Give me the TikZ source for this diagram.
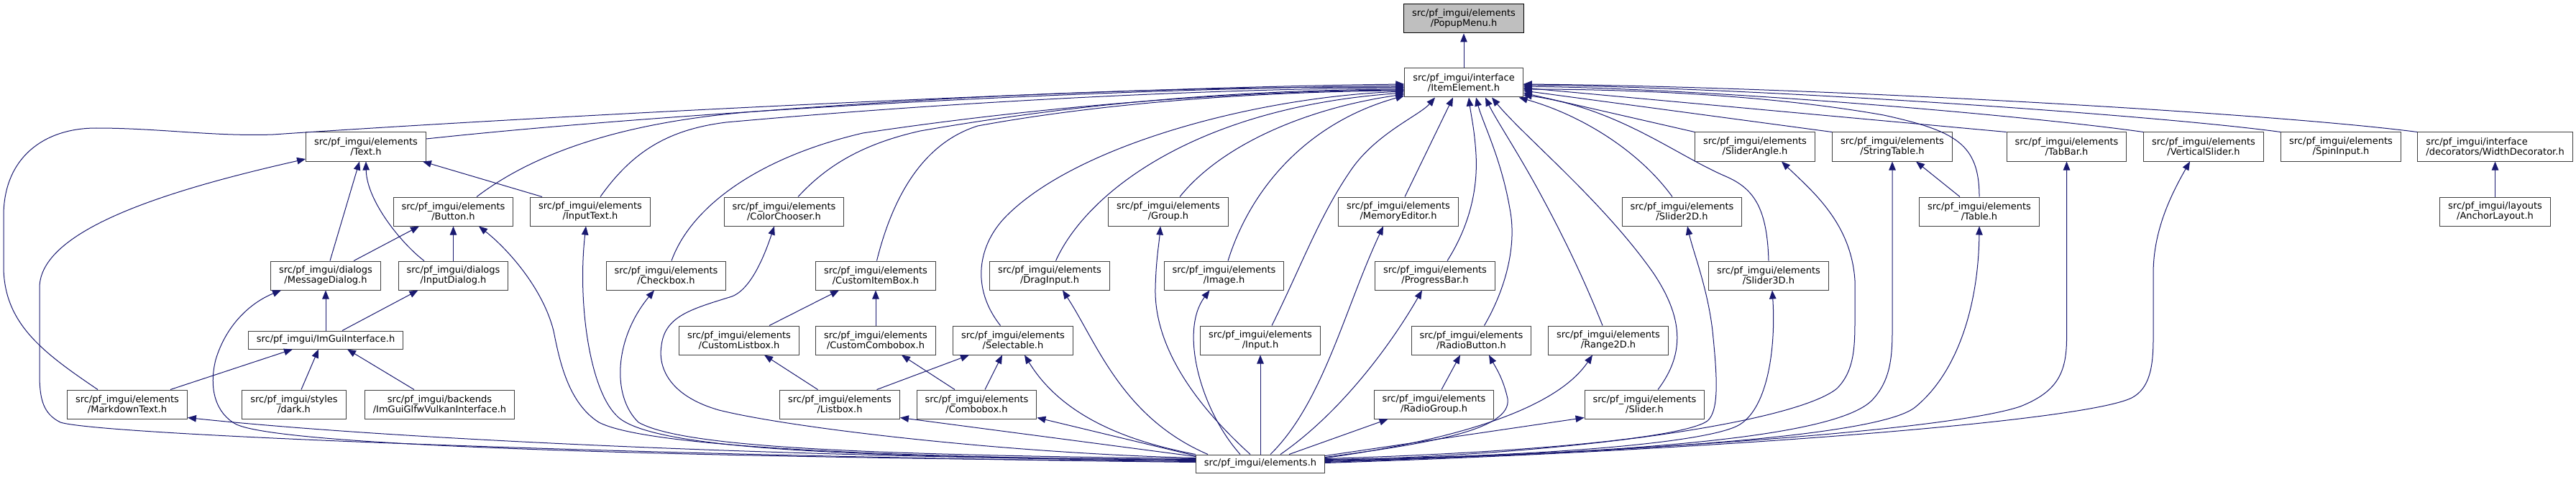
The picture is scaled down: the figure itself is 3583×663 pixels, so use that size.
\documentclass[tikz,border=0pt]{standalone}
\usepackage{fontspec}
\setmainfont{DejaVu Sans}
\usetikzlibrary{arrows.meta,positioning}
\definecolor{edgeblue}{RGB}{25,25,112}
\definecolor{boxgrey}{RGB}{64,64,64}

\begin{document}
\begin{tikzpicture}[
    x=1pt, y=-1pt,
    hdr/.style={rectangle, draw=boxgrey, line width=1pt, fill=white, align=center, inner xsep=11.5pt, inner ysep=0pt, minimum height=40pt, font=\fontsize{13}{14}\selectfont},
    hdrone/.style={hdr, minimum height=25pt},
    focus/.style={hdr, draw=black, fill=gray!50},
    incl/.style={-{Triangle[length=12pt,width=9.5pt]}, draw=edgeblue, line width=1pt}
]
\useasboundingbox (0,0) rectangle (3583,663);

% Top
\node[focus] (popup) at (2036,26) {src/pf\_imgui/elements\\/PopupMenu.h};
\node[hdr] (item) at (2036,115) {src/pf\_imgui/interface\\/ItemElement.h};

% Row 3
\node[hdr] (text) at (509,204) {src/pf\_imgui/elements\\/Text.h};
\node[hdr] (sangle) at (2441,204) {src/pf\_imgui/elements\\/SliderAngle.h};
\node[hdr] (strtab) at (2632,204) {src/pf\_imgui/elements\\/StringTable.h};
\node[hdr] (tabbar) at (2874.5,204) {src/pf\_imgui/elements\\/TabBar.h};
\node[hdr] (vslider) at (3065,204) {src/pf\_imgui/elements\\/VerticalSlider.h};
\node[hdr] (spin) at (3256,204) {src/pf\_imgui/elements\\/SpinInput.h};
\node[hdr, align=left] (widthdec) at (3470.5,204) {src/pf\_imgui/interface\\/decorators/WidthDecorator.h};

% Row 4
\node[hdr] (button) at (630.5,294) {src/pf\_imgui/elements\\/Button.h};
\node[hdr] (inputtext) at (821,294) {src/pf\_imgui/elements\\/InputText.h};
\node[hdr] (colorch) at (1090.5,294) {src/pf\_imgui/elements\\/ColorChooser.h};
\node[hdr] (group) at (1625,294) {src/pf\_imgui/elements\\/Group.h};
\node[hdr] (memedit) at (1945,294) {src/pf\_imgui/elements\\/MemoryEditor.h};
\node[hdr] (slider2d) at (2339.5,294) {src/pf\_imgui/elements\\/Slider2D.h};
\node[hdr] (table) at (2753,294) {src/pf\_imgui/elements\\/Table.h};
\node[hdr] (anchor) at (3470.5,294) {src/pf\_imgui/layouts\\/AnchorLayout.h};

% Row 5
\node[hdr] (msgdlg) at (453,383) {src/pf\_imgui/dialogs\\/MessageDialog.h};
\node[hdr] (inputdlg) at (630.5,383) {src/pf\_imgui/dialogs\\/InputDialog.h};
\node[hdr] (checkbox) at (926.5,383) {src/pf\_imgui/elements\\/Checkbox.h};
\node[hdr] (citembox) at (1218,383) {src/pf\_imgui/elements\\/CustomItemBox.h};
\node[hdr] (draginput) at (1460,383) {src/pf\_imgui/elements\\/DragInput.h};
\node[hdr] (image) at (1702.5,383) {src/pf\_imgui/elements\\/Image.h};
\node[hdr] (progress) at (1996,383) {src/pf\_imgui/elements\\/ProgressBar.h};
\node[hdr] (slider3d) at (2460,383) {src/pf\_imgui/elements\\/Slider3D.h};

% Row 6
\node[hdrone] (imgui) at (453,472.5) {src/pf\_imgui/ImGuiInterface.h};
\node[hdr] (clistbox) at (1028,473) {src/pf\_imgui/elements\\/CustomListbox.h};
\node[hdr] (ccombobox) at (1218,473) {src/pf\_imgui/elements\\/CustomCombobox.h};
\node[hdr] (selectable) at (1409,473) {src/pf\_imgui/elements\\/Selectable.h};
\node[hdr] (input) at (1753,473) {src/pf\_imgui/elements\\/Input.h};
\node[hdr] (radiobtn) at (2046.5,473) {src/pf\_imgui/elements\\/RadioButton.h};
\node[hdr] (range2d) at (2237,473) {src/pf\_imgui/elements\\/Range2D.h};

% Row 7
\node[hdr] (markdown) at (177,562) {src/pf\_imgui/elements\\/MarkdownText.h};
\node[hdr] (dark) at (409,562) {src/pf\_imgui/styles\\/dark.h};
\node[hdr] (vulkan) at (611.5,562) {src/pf\_imgui/backends\\/ImGuiGlfwVulkanInterface.h};
\node[hdr] (listbox) at (1168,562) {src/pf\_imgui/elements\\/Listbox.h};
\node[hdr] (combobox) at (1358.5,562) {src/pf\_imgui/elements\\/Combobox.h};
\node[hdr] (radiogroup) at (1994.5,562) {src/pf\_imgui/elements\\/RadioGroup.h};
\node[hdr] (slider) at (2287.5,562) {src/pf\_imgui/elements\\/Slider.h};

% Bottom
\node[hdrone] (elements) at (1753,644.5) {src/pf\_imgui/elements.h};

% Into PopupMenu
\draw[incl] (item.north) -- (popup.south);

% Into ItemElement, left side
\draw[incl] ([shift={(-41,0)}]markdown.north) .. controls (60,490) and (5,450) .. (5,370) -- (5,300) .. controls (5,220) and (60,178) .. (134,178) .. controls (220,178) and (300,190) .. (380,187) .. controls (700,165) and (1500,122) .. ([shift={(0,2)}]item.west);
\draw[incl] ([shift={(0,-11)}]text.east) .. controls (900,160) and (1450,125) .. ([shift={(0,4)}]item.west);
\draw[incl] ([shift={(32.5,0)}]button.north) .. controls (740,215) and (860,170) .. (1050,155) .. controls (1450,124) and (1750,121) .. ([shift={(0,6)}]item.west);
\draw[incl] ([shift={(14,0)}]inputtext.north) .. controls (880,210) and (930,180) .. (1010,170) .. controls (1400,135) and (1750,123) .. ([shift={(0,7)}]item.west);
\draw[incl] ([shift={(19.5,0)}]colorch.north) .. controls (1150,230) and (1200,200) .. (1280,182) .. controls (1550,135) and (1780,125) .. ([shift={(0,9)}]item.west);
\draw[incl] ([shift={(7.5,0)}]checkbox.north) .. controls (960,290) and (1050,220) .. (1200,185) .. controls (1500,140) and (1780,126) .. ([shift={(0,10)}]item.west);
\draw[incl] ([shift={(1.5,0)}]citembox.north) .. controls (1240,280) and (1280,200) .. (1360,175) .. controls (1550,140) and (1780,127) .. ([shift={(0,11)}]item.west);
\draw[incl] ([shift={(-17.5,0)}]selectable.north) .. controls (1350,400) and (1360,340) .. (1400,300) .. controls (1500,200) and (1750,135) .. ([shift={(0,12)}]item.west);
\draw[incl] ([shift={(8.5,0)}]draginput.north) .. controls (1510,270) and (1660,150) .. ([shift={(0,14)}]item.west);
\draw[incl] ([shift={(16,0)}]group.north) .. controls (1700,200) and (1820,150) .. ([shift={(0,16)}]item.west);
\draw[incl] ([shift={(5.5,0)}]image.north) .. controls (1740,260) and (1820,170) .. ([shift={(0,18)}]item.west);

% Into ItemElement, from below
\draw[incl] ([shift={(16,0)}]input.north) .. controls (1810,370) and (1835,300) .. (1880,235) .. controls (1915,185) and (1975,160) .. ([shift={(-40,0)}]item.south);
\draw[incl] ([shift={(9,0)}]memedit.north) -- ([shift={(-15,0)}]item.south);
\draw[incl] ([shift={(17,0)}]progress.north) .. controls (2040,320) and (2056,270) .. (2053,215) .. controls (2051,180) and (2046,160) .. ([shift={(7,0)}]item.south);
\draw[incl] ([shift={(18,0)}]radiobtn.north) .. controls (2095,400) and (2110,340) .. (2100,290) .. controls (2088,220) and (2062,170) .. ([shift={(17,0)}]item.south);
\draw[incl] ([shift={(-8,0)}]range2d.north) .. controls (2200,380) and (2170,320) .. (2140,265) .. controls (2110,210) and (2080,165) .. ([shift={(30,0)}]item.south);
\draw[incl] ([shift={(18.5,0)}]slider.north) .. controls (2345,490) and (2340,440) .. (2300,380) .. controls (2230,280) and (2120,190) .. ([shift={(39,0)}]item.south);

% Into ItemElement, right side
\draw[incl] ([shift={(-13.5,0)}]slider2d.north) .. controls (2280,210) and (2200,160) .. ([shift={(-6,0)}]item.south east);
\draw[incl] (slider3d.north) .. controls (2458,290) and (2440,262) .. (2400,245) .. controls (2330,215) and (2250,150) .. ([shift={(0,17)}]item.east);
\draw[incl] (sangle.north west) -- ([shift={(0,14)}]item.east);
\draw[incl] (strtab.north west) -- ([shift={(0,11)}]item.east);
\draw[incl] (table.north) .. controls (2753,200) and (2720,182) .. (2620,160) .. controls (2450,130) and (2250,124) .. ([shift={(0,9)}]item.east);
\draw[incl] (tabbar.north west) -- ([shift={(0,7)}]item.east);
\draw[incl] (vslider.north west) .. controls (2830,162) and (2400,124) .. ([shift={(0,5)}]item.east);
\draw[incl] (spin.north west) .. controls (3000,160) and (2450,122) .. ([shift={(0,3)}]item.east);
\draw[incl] (widthdec.north west) .. controls (3150,156) and (2500,120) .. ([shift={(0,2)}]item.east);

% Left cluster
\draw[incl] ([shift={(6,0)}]msgdlg.north) -- ([shift={(-9,0)}]text.south);
\draw[incl] ([shift={(-40.5,0)}]inputdlg.north) .. controls (560,340) and (510,280) .. (text.south);
\draw[incl] ([shift={(-67,0)}]inputtext.north) -- ([shift={(-5,0)}]text.south east);
\draw[incl] ([shift={(39,0)}]msgdlg.north) -- ([shift={(-47.5,0)}]button.south);
\draw[incl] (inputdlg.north) -- (button.south);
\draw[incl] (imgui.north) -- (msgdlg.south);
\draw[incl] ([shift={(23,0)}]imgui.north) -- ([shift={(-49,0)}]inputdlg.south);
\draw[incl] ([shift={(60,0)}]markdown.north) -- ([shift={(-46,0)}]imgui.south);
\draw[incl] ([shift={(10,0)}]dark.north) -- ([shift={(-10,0)}]imgui.south);
\draw[incl] ([shift={(-35.5,0)}]vulkan.north) -- ([shift={(30,0)}]imgui.south);

% Custom boxes
\draw[incl] ([shift={(42,0)}]clistbox.north) -- ([shift={(-51,0)}]citembox.south);
\draw[incl] (ccombobox.north) -- (citembox.south);
\draw[incl] ([shift={(-30.5,0)}]listbox.north) -- ([shift={(35,0)}]clistbox.south);
\draw[incl] ([shift={(-30.5,0)}]combobox.north) -- ([shift={(36,0)}]ccombobox.south);
\draw[incl] ([shift={(51.5,0)}]listbox.north) -- ([shift={(-61,0)}]selectable.south);
\draw[incl] ([shift={(11.5,0)}]combobox.north) -- ([shift={(-15,0)}]selectable.south);

% Right cluster
\draw[incl] ([shift={(10.5,0)}]radiogroup.north) -- ([shift={(-15.5,0)}]radiobtn.south);
\draw[incl] ([shift={(-27,0)}]table.north) -- ([shift={(33,0)}]strtab.south);
\draw[incl] (anchor.north) -- (widthdec.south);

% From elements.h, left side
\draw[incl] ([shift={(0,-2)}]elements.west) .. controls (900,634) and (140,605) .. (84,587) .. controls (60,575) and (55,555) .. (55,520) -- (55,400) .. controls (55,320) and (230,265) .. ([shift={(0,17)}]text.west);
\draw[incl] ([shift={(0,-3)}]elements.west) .. controls (1000,636) and (400,622) .. (329,590) .. controls (300,575) and (290,540) .. (300,500) .. controls (315,450) and (350,420) .. ([shift={(15,0)}]msgdlg.south west);
\draw[incl] ([shift={(0,-4)}]elements.west) .. controls (1000,634) and (500,606) .. ([shift={(0,-2)}]markdown.south east);
\draw[incl] ([shift={(0,-5)}]elements.west) .. controls (1250,636) and (900,622) .. (833,587) .. controls (790,560) and (778,500) .. (770,460) .. controls (755,400) and (705,345) .. ([shift={(35.5,0)}]button.south);
\draw[incl] ([shift={(0,-6)}]elements.west) .. controls (1200,636) and (900,626) .. (857,577) .. controls (820,540) and (803,420) .. ([shift={(-6,0)}]inputtext.south);
\draw[incl] ([shift={(0,-7)}]elements.west) .. controls (1200,632) and (950,622) .. (888,587) .. controls (850,550) and (855,470) .. ([shift={(-16.5,0)}]checkbox.south);
\draw[incl] ([shift={(0,-8)}]elements.west) .. controls (1400,630) and (1100,595) .. (1000,570) .. controls (930,550) and (915,510) .. (920,480) .. controls (925,440) and (960,430) .. (1015,413) .. controls (1045,405) and (1065,350) .. ([shift={(-13.5,0)}]colorch.south);
\draw[incl] ([shift={(0,-10)}]elements.west) -- ([shift={(0,-2)}]listbox.south east);
\draw[incl] ([shift={(0,-11)}]elements.west) -- ([shift={(0,-2)}]combobox.south east);
\draw[incl] (elements.north west) .. controls (1560,612) and (1475,575) .. ([shift={(16,0)}]selectable.south);

% From elements.h, top
\draw[incl] ([shift={(-73,0)}]elements.north) .. controls (1560,580) and (1525,475) .. ([shift={(18,0)}]draginput.south);
\draw[incl] ([shift={(-14,0)}]elements.north) .. controls (1660,560) and (1605,480) .. (1607,400) .. controls (1608,360) and (1612,340) .. ([shift={(-11,0)}]group.south);
\draw[incl] ([shift={(-28,0)}]elements.north) .. controls (1670,570) and (1640,460) .. ([shift={(-20,0)}]image.south);
\draw[incl] (elements.north) -- (input.south);
\draw[incl] ([shift={(14,0)}]elements.north) .. controls (1840,560) and (1870,430) .. ([shift={(-21,0)}]memedit.south);
\draw[incl] ([shift={(28,0)}]elements.north) .. controls (1870,570) and (1940,470) .. ([shift={(-18,0)}]progress.south);
\draw[incl] ([shift={(40,0)}]elements.north) -- ([shift={(20,0)}]radiogroup.south west);

% From elements.h, right side
\draw[incl] ([shift={(0,-9)}]elements.east) .. controls (2000,615) and (2110,595) .. (2096,550) .. controls (2090,525) and (2080,510) .. ([shift={(24.5,0)}]radiobtn.south);
\draw[incl] ([shift={(0,-8)}]elements.east) .. controls (2000,615) and (2160,575) .. ([shift={(-22,0)}]range2d.south);
\draw[incl] ([shift={(0,-11)}]elements.east) -- ([shift={(0,-2)}]slider.south west);
\draw[incl] ([shift={(0,-7)}]elements.east) .. controls (2100,630) and (2340,610) .. (2375,585) .. controls (2392,570) and (2388,520) .. (2382,460) .. controls (2375,400) and (2355,350) .. ([shift={(7.5,0)}]slider2d.south);
\draw[incl] ([shift={(0,-6)}]elements.east) .. controls (2150,635) and (2380,615) .. (2420,590) .. controls (2460,565) and (2470,480) .. ([shift={(5,0)}]slider3d.south);
\draw[incl] ([shift={(0,-5)}]elements.east) .. controls (2200,632) and (2500,585) .. (2555,540) .. controls (2580,515) and (2580,480) .. (2580,440) -- (2580,390) .. controls (2575,310) and (2520,265) .. ([shift={(37,0)}]sangle.south);
\draw[incl] ([shift={(0,-4)}]elements.east) .. controls (2300,630) and (2560,605) .. (2605,555) .. controls (2628,530) and (2632,500) .. (2632,460) -- (strtab.south);
\draw[incl] ([shift={(0,-3)}]elements.east) .. controls (2300,628) and (2620,605) .. (2665,565) .. controls (2725,515) and (2752,420) .. (table.south);
\draw[incl] ([shift={(0,-2)}]elements.east) .. controls (2350,625) and (2720,595) .. (2810,565) .. controls (2860,545) and (2874.5,520) .. (2874.5,470) -- (tabbar.south);
\draw[incl] ([shift={(0,-1)}]elements.east) .. controls (2400,625) and (2900,585) .. (2965,553) .. controls (2990,540) and (2995,510) .. (2995,470) -- (2995,380) .. controls (2995,320) and (3020,270) .. ([shift={(-19,0)}]vslider.south);

\end{tikzpicture}
\end{document}
